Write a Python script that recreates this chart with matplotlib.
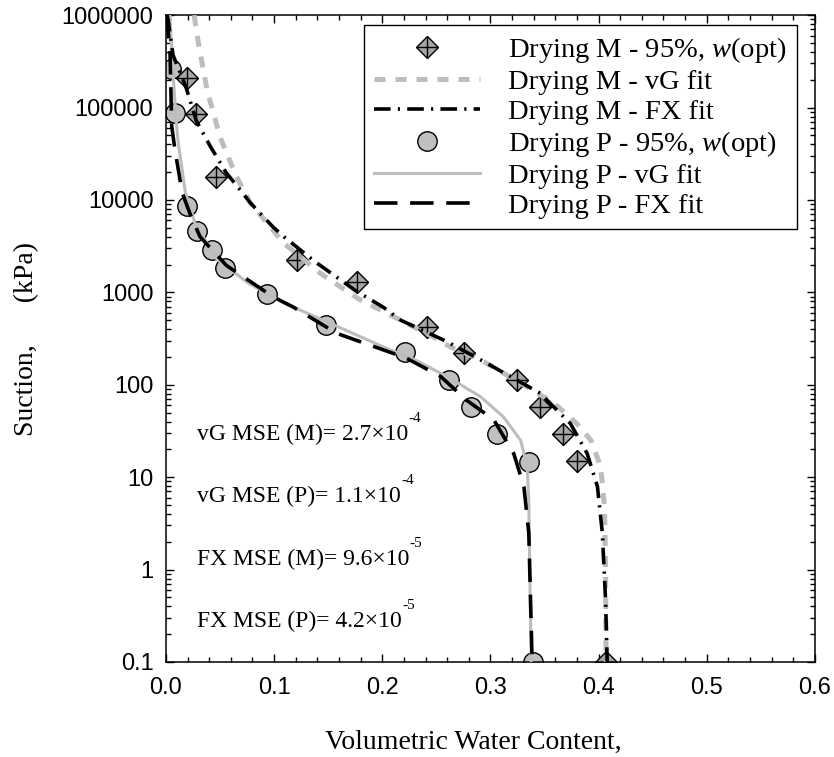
import matplotlib
matplotlib.use('Agg')
import matplotlib.pyplot as plt

# measured points (volumetric water content, suction kPa)
m_theta = [0.019, 0.028, 0.046, 0.121, 0.177, 0.241, 0.276, 0.325, 0.346, 0.367, 0.380, 0.407]
m_suction = [2.07e5, 8.5e4, 1.78e4, 2230, 1280, 425, 222, 112, 58, 29, 15, 0.1]

p_theta = [0.005, 0.008, 0.019, 0.029, 0.043, 0.055, 0.093, 0.148, 0.221, 0.262, 0.282, 0.306, 0.336, 0.339]
p_suction = [2.6e5, 8.8e4, 8600, 4600, 2900, 1820, 950, 443, 224, 112, 57, 29.3, 14.7, 0.1]

# fitted curves
m_vg_theta = [0.026, 0.030, 0.038, 0.050, 0.065, 0.078, 0.109, 0.143, 0.178, 0.217, 0.247,
              0.263, 0.288, 0.334, 0.359, 0.380, 0.393, 0.402, 0.4055, 0.4065, 0.407]
m_vg_suction = [1e6, 5e5, 1.55e5, 4.8e4, 1.8e4, 9300, 3400, 1600, 850, 500, 330,
                257, 195, 95, 63, 38, 25, 13, 4.8, 1.07, 0.1]

m_fx_theta = [0.001, 0.002, 0.0065, 0.0185, 0.028, 0.041, 0.056, 0.0685, 0.078, 0.099, 0.109, 0.138,
              0.175, 0.201, 0.217, 0.258, 0.294, 0.346, 0.374, 0.3895, 0.399, 0.4035, 0.4065, 0.408]
m_fx_suction = [1e6, 8.9e5, 3.7e5, 1.66e5, 7.2e4, 3.8e4, 1.95e4, 1.29e4, 9300, 5100, 4000, 2140,
                1050, 690, 500, 300, 178, 81, 38, 18, 7.9, 2.5, 0.47, 0.1]

p_vg_theta = [0.0035, 0.0068, 0.0099, 0.0114, 0.018, 0.027, 0.047, 0.076, 0.110, 0.158, 0.201,
              0.232, 0.263, 0.291, 0.312, 0.328, 0.334, 0.3355, 0.3364, 0.3377]
p_vg_suction = [1e6, 2.1e5, 6.2e4, 4.1e4, 1.2e4, 5500, 2300, 1260, 760, 430, 257,
                182, 117, 74, 45, 25, 13, 5.6, 1.07, 0.1]

p_fx_theta = [0.0005, 0.0037, 0.0053, 0.0083, 0.015, 0.0222, 0.0315, 0.056, 0.0994, 0.118, 0.158,
              0.222, 0.254, 0.278, 0.303, 0.3216, 0.331, 0.3355, 0.3386]
p_fx_suction = [1e6, 4.2e5, 6.3e4, 3.5e4, 1.2e4, 7100, 4000, 1950, 890, 690, 360,
                195, 123, 68, 42, 18, 7.9, 2.5, 0.1]

mse_labels = ['vG MSE (M)= 2.7\u00d710', 'vG MSE (P)= 1.1\u00d710',
              'FX MSE (M)= 9.6\u00d710', 'FX MSE (P)= 4.2\u00d710']
mse_exponents = ['-4', '-4', '-5', '-5']
mse_y = [25.2, 5.4, 1.12, 0.24]

plt.rcParams['font.family'] = ['Liberation Serif', 'DejaVu Serif']
plt.rcParams['mathtext.fontset'] = 'custom'
plt.rcParams['mathtext.rm'] = 'Liberation Serif'
plt.rcParams['mathtext.it'] = 'Liberation Serif:italic'

fig = plt.figure(figsize=(8.34, 7.57), dpi=100)
ax = fig.add_axes([0.199, 0.1255, 0.778, 0.8545])

grey = '#bdbdbd'

d1, = ax.plot(m_theta, m_suction, 'D', ms=11.5, mfc='#a6a6a6', mec='black', mew=1.0, zorder=2)
d2, = ax.plot(m_theta, m_suction, '+', ms=16, mec='black', mew=1.0, zorder=2)
l1, = ax.plot(m_vg_theta, m_vg_suction, color=grey, lw=3.6, dashes=(2.2, 2.0), zorder=3)
l2, = ax.plot(m_fx_theta, m_fx_suction, color='black', lw=2.6, dashes=(4.6, 2.0, 0.6, 2.0), zorder=4)
c1, = ax.plot(p_theta, p_suction, 'o', ms=14, mfc='#c0c0c0', mec='black', mew=1.0, zorder=2)
l3, = ax.plot(p_vg_theta, p_vg_suction, color=grey, lw=2.2, zorder=3)
l4, = ax.plot(p_fx_theta, p_fx_suction, color='black', lw=2.6, dashes=(6.5, 3.5), zorder=4)

ax.set_yscale('log')
ax.set_xlim(0, 0.6)
ax.set_ylim(0.1, 1e6)
ax.set_xticks([0.0, 0.1, 0.2, 0.3, 0.4, 0.5, 0.6])
ax.set_xticklabels(['0.0', '0.1', '0.2', '0.3', '0.4', '0.5', '0.6'])
ax.set_xticks([i * 0.02 for i in range(31)], minor=True)
yt = [0.1, 1, 10, 100, 1000, 10000, 100000, 1000000]
ax.set_yticks(yt)
ax.set_yticklabels(['0.1', '1', '10', '100', '1000', '10000', '100000', '1000000'])

for lab in ax.get_xticklabels() + ax.get_yticklabels():
    lab.set_family('Liberation Sans')
    lab.set_fontsize(17)
ax.tick_params(which='both', direction='in', top=True, right=True, width=1.0)
ax.tick_params(which='major', length=6)
ax.tick_params(which='minor', length=3.5)
ax.tick_params(axis='x', which='major', pad=11)
ax.tick_params(axis='y', which='major', pad=9)
for s in ax.spines.values():
    s.set_linewidth(1.1)

ax.set_xlabel('Volumetric Water Content,   ', fontsize=20)
ax.set_ylabel('Suction,      (kPa)', fontsize=20)
ax.xaxis.set_label_coords(0.49, -0.105)
ax.yaxis.set_label_coords(-0.195, 0.5)

for lab, ex, yv in zip(mse_labels, mse_exponents, mse_y):
    t = ax.text(0.029, yv, lab, fontsize=17, va='baseline', ha='left')
    ax.annotate(ex, xy=(1, 1), xycoords=t, xytext=(0, -1), textcoords='offset points',
                fontsize=11, ha='left', va='bottom')

handles = [(d1, d2), l1, l2, c1, l3, l4]
labels = ['Drying M - 95%, $\\mathit{w}$(opt)', 'Drying M - vG fit', 'Drying M - FX fit',
          'Drying P - 95%, $\\mathit{w}$(opt)', 'Drying P - vG fit', 'Drying P - FX fit']
leg = ax.legend(handles, labels, loc='upper right', bbox_to_anchor=(0.972, 0.9845),
                borderaxespad=0, fontsize=20.5, numpoints=1, handlelength=3.7,
                handletextpad=1.0, labelspacing=0.14, fancybox=False, framealpha=1,
                edgecolor='black', borderpad=0.35)
leg.get_frame().set_linewidth(1.0)

fig.savefig('out.png', dpi=100)
